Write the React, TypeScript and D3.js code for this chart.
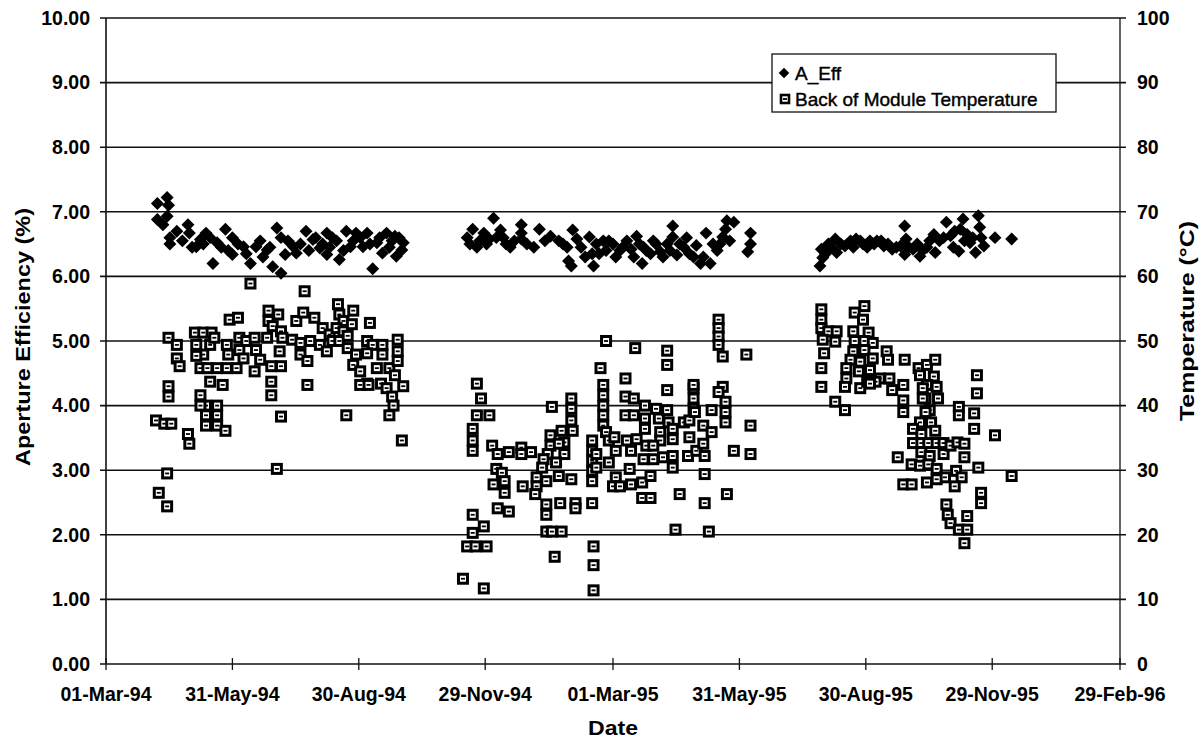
import React from "react";
import * as d3 from "d3";

// Axis bounds and ticks
const START = "01-Mar-94";
const END = "29-Feb-96";
const xTickLabels = [
  "01-Mar-94", "31-May-94", "30-Aug-94", "29-Nov-94", "01-Mar-95",
  "31-May-95", "30-Aug-95", "29-Nov-95", "29-Feb-96",
];
const leftTicks = [0, 1, 2, 3, 4, 5, 6, 7, 8, 9, 10];
const rightTicks = [0, 10, 20, 30, 40, 50, 60, 70, 80, 90, 100];

// A_Eff: [days after 01-Mar-94, aperture efficiency %]
const effData: [number, number][] = [
  [44, 7.22], [37, 7.13], [45, 7.1], [37, 6.88], [44, 6.93], [41, 6.8], [51, 6.7], [46, 6.6], [59, 6.8], [60, 6.67],
  [46, 6.5], [68, 6.57], [72, 6.67], [65, 6.46], [77, 6.2], [80, 6.52], [86, 6.73], [91, 6.6], [91, 6.34], [99, 6.46],
  [104, 6.2], [108, 6.46], [116, 6.41], [120, 6.15], [123, 6.75], [126, 6.6], [126, 6.05], [129, 6.34], [135, 6.46], [137, 6.36],
  [144, 6.7], [149, 6.57], [154, 6.44], [159, 6.67], [159, 6.34], [163, 6.6], [168, 6.26], [173, 6.7], [176, 6.46], [180, 6.67],
  [185, 6.46], [188, 6.67], [192, 6.12], [195, 6.52], [199, 6.36], [202, 6.67], [208, 6.62], [209, 6.31], [213, 6.41], [214, 6.52],
  [55, 6.55], [62, 6.45], [70, 6.5], [75, 6.6], [83, 6.45], [88, 6.4], [95, 6.5], [101, 6.35], [111, 6.55], [113, 6.3],
  [118, 6.45], [131, 6.55], [140, 6.5], [146, 6.4], [151, 6.6], [156, 6.5], [161, 6.45], [166, 6.55], [171, 6.4], [178, 6.55],
  [183, 6.6], [190, 6.5], [197, 6.6], [204, 6.45], [206, 6.55], [211, 6.6],
  [260, 6.6], [264, 6.73], [267, 6.45], [272, 6.67], [279, 6.9], [276, 6.58], [284, 6.72], [288, 6.5], [291, 6.45], [299, 6.8],
  [299, 6.67], [299, 6.58], [308, 6.45], [312, 6.73], [320, 6.62], [326, 6.55], [332, 6.45], [333, 6.24], [335, 6.16], [336, 6.72],
  [339, 6.58], [348, 6.61], [350, 6.35], [351, 6.16], [353, 6.5], [358, 6.55], [360, 6.4], [365, 6.5], [370, 6.4], [375, 6.55],
  [378, 6.42], [382, 6.62], [384, 6.5], [386, 6.2], [389, 6.4], [394, 6.55], [399, 6.38], [404, 6.5], [408, 6.78], [408, 6.61],
  [411, 6.33], [416, 6.45], [420, 6.35], [425, 6.48], [428, 6.2], [430, 6.3], [432, 6.67], [435, 6.2], [440, 6.4], [442, 6.5],
  [444, 6.61], [446, 6.73], [447, 6.86], [452, 6.84], [464, 6.67], [464, 6.5], [462, 6.38],
  [262, 6.5], [269, 6.55], [274, 6.5], [281, 6.6], [286, 6.6], [294, 6.55], [303, 6.5], [316, 6.55], [329, 6.5], [342, 6.45],
  [345, 6.3], [355, 6.35], [362, 6.55], [367, 6.3], [372, 6.45], [380, 6.3], [387, 6.45], [392, 6.35], [396, 6.5], [401, 6.3],
  [406, 6.4], [413, 6.5], [418, 6.6], [423, 6.3], [437, 6.5], [449, 6.55],
  [514, 6.16], [515, 6.42], [516, 6.29], [520, 6.5], [525, 6.58], [526, 6.37], [532, 6.47], [536, 6.55], [540, 6.58], [545, 6.5],
  [550, 6.55], [555, 6.55], [560, 6.47], [566, 6.42], [572, 6.47], [575, 6.78], [575, 6.34], [576, 6.58], [581, 6.42], [586, 6.31],
  [591, 6.45], [596, 6.65], [597, 6.37], [600, 6.55], [605, 6.84], [608, 6.63], [610, 6.45], [614, 6.39], [615, 6.73], [617, 6.89],
  [620, 6.65], [622, 6.52], [626, 6.37], [628, 6.94], [629, 6.76], [630, 6.6], [632, 6.47], [640, 6.6], [652, 6.58],
  [518, 6.35], [522, 6.45], [529, 6.5], [538, 6.45], [543, 6.55], [548, 6.45], [553, 6.5], [558, 6.55], [563, 6.5], [569, 6.45],
  [578, 6.45], [584, 6.5], [588, 6.4], [593, 6.55], [603, 6.6], [611, 6.7], [618, 6.55], [624, 6.6],
];

// Back of Module Temperature: [days after 01-Mar-94, °C]
const tempData: [number, number][] = [
  [104, 58.9], [143, 57.7], [89, 53.3], [95, 53.6], [117, 54.7], [124, 54.1], [117, 53.1], [120, 52.3], [126, 51.5], [137, 53.1],
  [142, 54.4], [150, 53.6], [167, 55.7], [168, 54.1], [178, 54.7], [190, 52.8], [171, 53.1],
  [45, 50.5], [51, 49.4], [51, 47.3], [53, 46.1], [64, 51.3], [70, 51.3], [76, 51.3], [65, 49.4], [70, 47.9], [65, 47.7],
  [75, 49.4], [78, 50.5], [68, 45.8], [73, 45.8], [80, 45.8], [75, 43.7], [84, 43.2], [87, 49.4], [88, 47.9], [87, 45.8],
  [96, 50.5], [101, 50.0], [96, 48.6], [99, 47.3], [94, 45.8], [107, 50.5], [108, 48.6], [111, 47.1], [107, 45.3], [116, 50.5],
  [119, 46.1], [126, 46.1], [125, 48.4], [127, 50.5], [134, 50.2], [140, 49.7], [140, 47.9], [145, 46.9], [147, 50.0], [154, 49.4],
  [156, 52.0], [161, 51.0], [166, 52.0], [171, 51.5], [159, 48.4], [163, 50.0], [168, 50.0], [174, 50.8], [174, 48.9], [177, 52.6],
  [180, 47.9], [178, 46.3], [188, 50.0], [192, 49.4], [188, 48.1], [183, 45.3], [188, 43.4], [199, 49.4], [199, 47.9], [195, 45.8],
  [204, 45.8], [198, 43.4], [202, 42.7], [210, 50.2], [210, 48.4], [210, 46.9], [208, 44.7], [214, 43.0], [206, 41.4], [207, 40.0],
  [204, 38.5], [145, 43.2], [119, 43.7], [119, 41.6], [126, 38.3], [173, 38.5], [45, 43.0], [45, 41.4], [68, 41.6], [72, 40.0],
  [80, 40.0], [72, 38.5], [80, 38.5], [68, 40.0], [72, 36.9], [80, 36.9], [86, 36.1], [36, 37.7], [42, 37.2], [47, 37.2],
  [59, 35.6], [60, 34.1], [44, 29.5], [38, 26.5], [44, 24.4], [123, 30.2], [213, 34.6], [183, 43.2], [189, 43.2],
  [360, 50.0], [381, 48.9], [404, 48.5], [404, 46.3], [441, 53.3], [441, 52.0], [441, 50.7], [441, 49.4], [444, 47.6], [461, 47.9],
  [267, 43.4], [270, 41.1], [267, 38.5], [276, 38.5], [321, 39.8], [335, 41.1], [335, 39.5], [356, 45.8], [374, 44.2], [374, 41.4],
  [404, 42.4], [423, 42.7], [423, 41.1], [423, 39.5], [444, 42.9], [446, 40.6], [464, 36.9],
  [264, 36.4], [264, 34.6], [264, 33.0], [278, 33.8], [282, 32.5], [290, 32.8], [299, 33.5], [299, 32.5], [306, 32.8], [335, 37.7],
  [336, 36.1], [328, 36.1], [320, 35.4], [330, 34.3], [320, 33.8], [326, 34.1], [318, 32.5], [330, 32.5], [315, 31.7], [324, 31.2],
  [314, 30.4], [310, 28.9], [317, 28.3], [326, 29.1], [335, 28.6], [310, 27.5], [309, 26.3], [300, 27.5], [281, 30.2], [285, 29.6],
  [279, 27.8], [287, 28.3], [287, 26.5], [282, 24.1], [290, 23.6], [317, 24.7], [317, 23.1], [327, 24.9], [338, 24.9], [338, 24.1],
  [350, 24.9], [317, 20.5], [321, 20.5], [328, 20.5], [264, 23.1], [272, 21.3], [264, 20.3], [260, 18.2], [266, 18.2], [274, 18.2],
  [257, 13.2], [272, 11.7], [323, 16.6], [351, 18.2], [351, 15.3], [351, 11.4], [350, 34.6], [350, 33.0], [350, 31.5], [350, 29.9],
  [350, 28.3], [353, 32.5], [353, 30.4], [358, 43.2], [358, 41.6], [358, 40.0], [358, 38.5], [358, 36.9], [360, 35.9], [362, 34.6],
  [362, 31.2], [366, 35.1], [367, 33.0], [380, 41.1], [374, 38.5], [380, 38.5], [388, 40.0], [388, 38.0], [388, 36.4], [382, 34.8],
  [375, 34.6], [389, 33.8], [378, 33.0], [387, 31.7], [394, 31.7], [377, 30.2], [367, 28.9], [365, 27.5], [370, 27.5], [378, 27.8],
  [386, 28.1], [392, 29.1], [386, 25.7], [392, 25.7], [396, 39.5], [398, 38.0], [399, 35.9], [399, 34.6], [404, 39.3], [405, 37.4],
  [408, 36.4], [408, 34.8], [401, 32.0], [408, 32.2], [408, 30.4], [394, 33.8], [413, 26.3], [410, 20.8], [416, 37.4], [420, 37.7],
  [420, 35.1], [419, 32.2], [423, 43.2], [424, 39.0], [425, 33.0], [430, 36.9], [430, 34.1], [431, 32.2], [431, 29.4], [431, 24.9],
  [434, 20.5], [436, 39.3], [436, 35.9], [441, 42.1], [446, 39.0], [446, 37.4], [447, 26.3], [452, 33.0], [464, 32.5],
  [515, 54.9], [515, 53.3], [515, 52.0], [520, 51.5], [526, 51.5], [516, 50.2], [525, 49.9], [517, 48.1], [515, 45.8], [515, 42.9],
  [525, 40.6], [532, 39.3], [539, 54.4], [546, 55.4], [545, 53.3], [538, 51.5], [549, 51.3], [539, 50.0], [546, 50.0], [552, 49.7],
  [538, 48.4], [546, 48.6], [536, 47.1], [543, 46.8], [552, 47.3], [562, 48.4], [563, 47.1], [533, 45.8], [533, 44.2], [542, 45.3],
  [550, 45.5], [557, 44.2], [564, 44.2], [543, 42.7], [548, 43.7], [554, 43.7], [566, 42.4], [532, 42.9], [575, 47.1], [574, 43.2],
  [574, 40.8], [574, 39.0], [585, 45.8], [591, 46.3], [597, 47.1], [586, 44.7], [596, 44.5], [591, 43.2], [598, 42.9], [590, 41.1],
  [599, 41.1], [593, 39.3], [594, 37.4], [586, 37.4], [614, 39.8], [614, 38.5], [627, 44.7], [627, 41.9], [625, 38.8],
  [550, 43.4], [588, 42.7], [588, 41.1], [590, 39.0], [581, 36.4], [587, 35.6], [597, 36.1], [581, 34.2], [587, 34.2], [592, 34.2],
  [598, 34.2], [603, 34.2], [587, 32.8], [593, 32.2], [603, 32.5], [608, 33.8], [613, 34.3], [618, 34.1], [570, 32.0], [580, 30.9],
  [586, 30.7], [592, 30.9], [598, 30.2], [604, 28.9], [612, 29.9], [616, 28.9], [618, 32.0], [591, 28.1], [598, 28.6], [611, 27.5],
  [574, 27.8], [580, 27.8], [628, 30.4], [652, 29.1], [640, 35.4], [625, 36.4], [630, 26.5], [630, 24.9], [605, 24.7], [606, 23.1],
  [608, 21.8], [614, 20.8], [620, 22.9], [620, 20.8], [618, 18.7],
];

const FONT = "'Liberation Sans', Arial, Helvetica, sans-serif";

export default function App() {
  const W = 1204;
  const H = 739;
  const parse = d3.utcParse("%d-%b-%y");
  const t0 = parse(START) as Date;
  const t1 = parse(END) as Date;

  const left = 106;
  const right = 1120;
  const top = 18;
  const bottom = 664;

  const x = d3.scaleUtc().domain([t0, t1]).range([left, right]);
  const yL = d3.scaleLinear().domain([0, 10]).range([bottom, top]);
  const yR = d3.scaleLinear().domain([0, 100]).range([bottom, top]);
  const day = (d: number) => d3.utcDay.offset(t0, d);

  const diamond = d3.symbol().type(d3.symbolSquare).size(84)() as string;
  const diamondSmall = d3.symbol().type(d3.symbolSquare).size(56)() as string;

  const Square = ({ cx, cy, s, sw }: { cx: number; cy: number; s: number; sw: number }) => (
    <g transform={`translate(${cx},${cy})`}>
      <rect x={-s / 2} y={-s / 2} width={s} height={s} fill="#fff" stroke="#000" strokeWidth={sw} />
      <rect x={-2} y={-0.9} width={4} height={1.8} fill="#000" />
    </g>
  );

  return (
    <svg
      width={W}
      height={H}
      viewBox={`0 0 ${W} ${H}`}
      style={{ position: "absolute", left: 0, top: 0, background: "#fff" }}
      fontFamily={FONT}
    >
      <rect x={0} y={0} width={W} height={H} fill="#fff" />

      {/* gridlines with outer ticks */}
      {leftTicks.map((v) => (
        <line key={"g" + v} x1={left - 6} x2={right + 6} y1={yL(v)} y2={yL(v)} stroke="#111" strokeWidth={1.6} />
      ))}

      {/* axes */}
      <line x1={left} x2={left} y1={top} y2={bottom} stroke="#111" strokeWidth={1.6} />
      <line x1={right} x2={right} y1={top} y2={bottom} stroke="#111" strokeWidth={1.3} />

      {/* x ticks */}
      {xTickLabels.map((lab) => {
        const px = x(parse(lab) as Date);
        return (
          <g key={lab}>
            <line x1={px} x2={px} y1={bottom - 6} y2={bottom + 6} stroke="#111" strokeWidth={1.3} />
            <text x={px} y={701} textAnchor="middle" fontSize={19.5} fontWeight="bold" fill="#000">
              {lab}
            </text>
          </g>
        );
      })}

      {/* left tick labels */}
      {leftTicks.map((v) => (
        <text key={"l" + v} x={90} y={yL(v)} dy="0.35em" textAnchor="end" fontSize={19.5} fontWeight="bold" fill="#000">
          {v.toFixed(2)}
        </text>
      ))}

      {/* right tick labels */}
      {rightTicks.map((v) => (
        <text key={"r" + v} x={1137} y={yR(v)} dy="0.35em" textAnchor="start" fontSize={19.5} fontWeight="bold" fill="#000">
          {v}
        </text>
      ))}

      {/* axis titles */}
      <text
        transform={`translate(23,337) rotate(-90)`}
        textAnchor="middle"
        dy="0.35em"
        fontSize={21}
        fontWeight="bold"
        textLength={258}
        lengthAdjust="spacingAndGlyphs"
      >
        Aperture Efficiency (%)
      </text>
      <text
        transform={`translate(1187,321) rotate(-90)`}
        textAnchor="middle"
        dy="0.35em"
        fontSize={21}
        fontWeight="bold"
        textLength={200}
        lengthAdjust="spacingAndGlyphs"
      >
        Temperature (°C)
      </text>
      <text x={613} y={735} textAnchor="middle" fontSize={20} fontWeight="bold" textLength={50} lengthAdjust="spacingAndGlyphs">
        Date
      </text>

      {/* A_Eff series */}
      {effData.map(([d, v], i) => (
        <path key={"e" + i} d={diamond} transform={`translate(${x(day(d))},${yL(v)}) rotate(45)`} fill="#000" />
      ))}

      {/* Temperature series */}
      {tempData.map(([d, v], i) => (
        <Square key={"t" + i} cx={x(day(d))} cy={yR(v)} s={9} sw={3} />
      ))}

      {/* legend */}
      <rect x={772} y={54} width={284} height={58} fill="#fff" stroke="#111" strokeWidth={1.3} />
      <path d={diamondSmall} transform="translate(784,73) rotate(45)" fill="#000" />
      <text x={795} y={80} fontSize={19} fill="#000" stroke="#000" strokeWidth={0.4}>
        A_Eff
      </text>
      <Square cx={785} cy={99} s={8} sw={2.6} />
      <text x={795} y={106} fontSize={19} fill="#000" stroke="#000" strokeWidth={0.4}>
        Back of Module Temperature
      </text>
    </svg>
  );
}
